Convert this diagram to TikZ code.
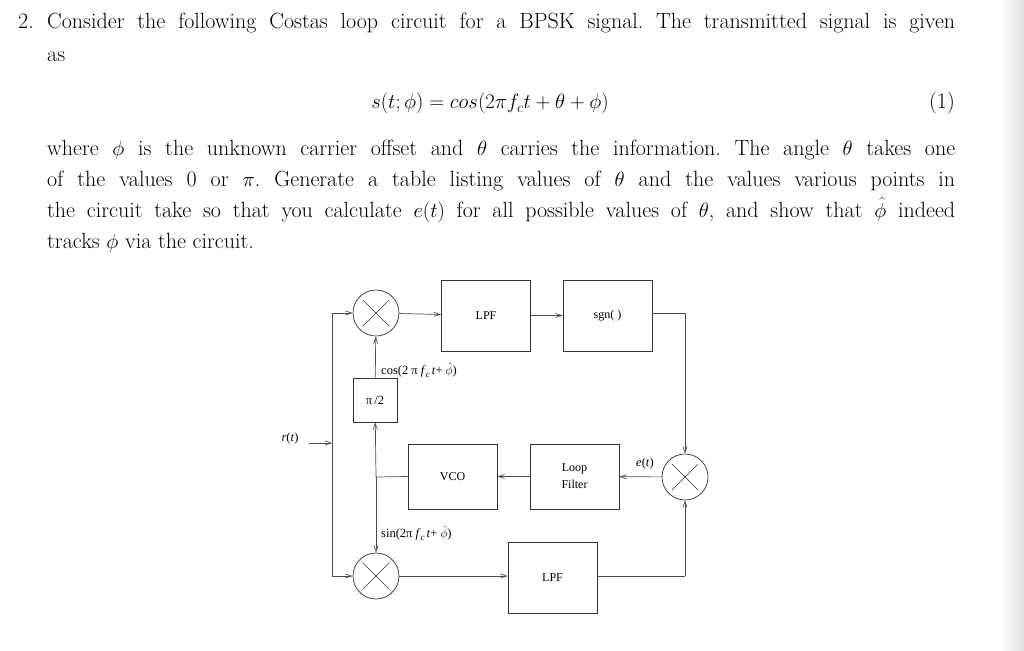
\documentclass[tikz,border=0pt]{standalone}
\usepackage{fontspec}
\newfontfamily\dia{Liberation Serif}
\usetikzlibrary{arrows.meta}
\frenchspacing
\begin{document}
\begin{tikzpicture}[x=1pt,y=-1pt,
  ln/.style={draw=black!70,line width=0.7pt},
  ar/.style={ln,-{Straight Barb[length=6pt,width=4pt]}},
  blk/.style={draw=black!80,line width=0.7pt,minimum width=89pt,minimum height=71pt,font=\dia\fontsize{12}{14}\selectfont,align=center},
  mix/.style={draw=black!80,line width=0.7pt,circle,minimum size=46pt,inner sep=0pt},
  lbl/.style={font=\dia\fontsize{12.5}{14}\selectfont,inner sep=0pt},
  txt/.style={anchor=base west,inner sep=0pt,font=\fontsize{22}{31}\selectfont}]
\useasboundingbox (0,0) rectangle (1024,650);
\fill[white] (0,0) rectangle (1024,650);
\shade[left color=white,right color=black!12] (1000,0) rectangle (1024,650);
% text
\node[txt] (n2) at (18,29) {2.};
\node[txt] (l1) at (47,29) {\makebox[908pt][s]{Consider the following Costas loop circuit for a BPSK signal. The transmitted signal is given}};
\node[txt] (l2) at (47,62) {as};
\node[txt,anchor=base] (eq) at (490,109) {$s(t;\phi)=cos(2\pi f_ct+\theta+\phi)$};
\node[txt,anchor=base east] (eqn) at (955,109) {(1)};
\node[txt] (l3) at (47,155) {\makebox[908pt][s]{where $\phi$ is the unknown carrier offset and $\theta$ carries the information. The angle $\theta$ takes one}};
\node[txt] (l4) at (47,186) {\makebox[908pt][s]{of the values 0 or $\pi$. Generate a table listing values of $\theta$ and the values various points in}};
\node[txt] (l5) at (47,217) {\makebox[908pt][s]{the circuit take so that you calculate $e(t)$ for all possible values of $\theta$, and show that $\hat\phi$ indeed}};
\node[txt] (l6) at (47,248) {tracks $\phi$ via the circuit.};
% diagram
\node[mix] (m1) at (376,313) {};
\node[mix] (m2) at (376,576) {};
\node[mix] (m3) at (685,477) {};
\foreach \m in {m1,m2,m3}{
  \draw[line width=0.6pt,black!80] (\m.center)+(-13,-13) -- +(13,13);
  \draw[line width=0.6pt,black!80] (\m.center)+(-13,13) -- +(13,-13);}
\node[blk] (lpf1) at (486,315.5) {LPF};
\node[blk] (sgn) at (607.5,315.5) {sgn( )};
\node[blk,minimum height=65pt] (vco) at (452.5,476.5) {VCO};
\node[blk,minimum height=65pt] (lf) at (574.5,476.5) {Loop\\[3pt]Filter};
\node[blk] (lpf2) at (552.5,577.5) {LPF};
\node[draw=black!80,line width=0.7pt,minimum size=44pt,inner sep=0pt,lbl] (ph) at (375,400) {π\,/2};
\node[lbl] (rt) at (290,438) {\textit{r}(\textit{t})};
\node[lbl] (et) at (645,463) {\textit{e}(\textit{t})};
\node[lbl,anchor=west] (cosl) at (381,370) {cos(2 π \textit{f}\raisebox{-3pt}{\fontsize{9}{9}\selectfont\textit{c}}\,\textit{t}+ $\hat{\phi}$)};
\node[lbl,anchor=west] (sinl) at (381,533) {sin(2π \textit{f}\raisebox{-3pt}{\fontsize{9}{9}\selectfont\textit{c}}\,\textit{t}+ $\hat{\phi}$)};
\coordinate (rs) at (309,443);
\coordinate (rj) at (332,443);
\coordinate (jt) at (332,313);
\coordinate (jb) at (332,576);
\coordinate (jv) at (376,477);
\coordinate (tr) at (685,313);
\coordinate (br) at (685,576);
% connectors
\draw[ar] (rs) -- (rj);
\draw[ln] (jt) -- (jb);
\draw[ar] (jt) -- (m1);
\draw[ar] (jb) -- (m2);
\draw[ar] (m1) -- (lpf1);
\draw[ar] (lpf1) -- (sgn);
\draw[ln] (sgn.east |- tr) -- (tr);
\draw[ar] (tr) -- (m3);
\draw[ar] (m2) -- (lpf2.west |- m2);
\draw[ln] (lpf2.east |- br) -- (br);
\draw[ar] (br) -- (m3);
\draw[ar] (m3) -- (lf);
\draw[ar] (lf) -- (vco);
\draw[ln] (vco.west) -- (jv);
\draw[ar] (jv) -- (ph);
\draw[ar] (jv) -- (m2);
\draw[ar] (ph) -- (m1);
\end{tikzpicture}
\end{document}
